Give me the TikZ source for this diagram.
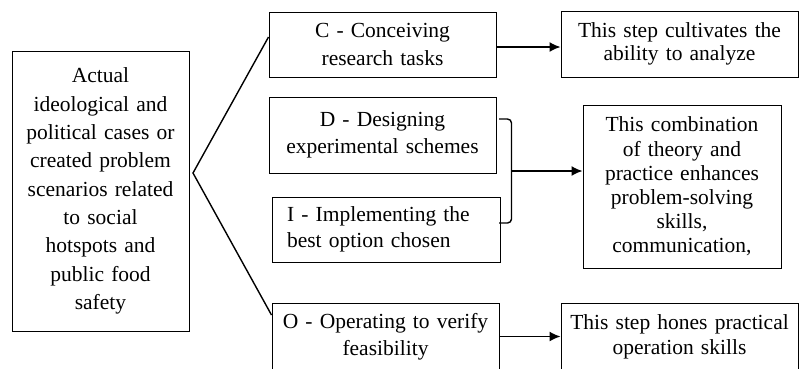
\documentclass[tikz,border=0pt]{standalone}
\usepackage{fontspec}
\setmainfont{Liberation Serif}
\usetikzlibrary{arrows.meta,calc}
\begin{document}
\begin{tikzpicture}[x=1pt,y=-1pt,
  box/.style={draw,line width=1pt,inner sep=0pt,align=center},
  conn/.style={line width=1.4pt},
  arr/.style={conn,-{Latex[length=11pt,width=10pt]}},
]
\useasboundingbox (0,0) rectangle (799,368);
\clip (0,0) rectangle (799,368);

\node[box, minimum width=177pt, minimum height=280pt, text width=170pt,
  font=\fontsize{21.5}{28.3}\selectfont] (L) at (100.5,191)
  {Actual\\ideological and\\political cases or\\created problem\\scenarios related\\to social\\hotspots and\\public food\\safety};

\node[box, minimum width=227pt, minimum height=65pt, text width=215pt,
  font=\fontsize{21.5}{28}\selectfont] (C) at (382.5,44.5)
  {C - Conceiving\\research tasks};

\node[box, minimum width=227pt, minimum height=76pt, text width=215pt,
  font=\fontsize{21.5}{27}\selectfont] (D) at (382.5,135)
  {D - Designing\\experimental schemes};

\node[box, align=left, minimum width=228pt, minimum height=65pt, text width=198pt,
  font=\fontsize{21.5}{25.5}\selectfont] (I) at (386,229.5)
  {\makebox[198pt][s]{I - Implementing the}\\best option chosen};

\node[box, minimum width=227pt, minimum height=67pt, text width=215pt,
  font=\fontsize{21.5}{27}\selectfont] (O) at (385.5,336.5)
  {O - Operating to verify\\feasibility};

\node[box, minimum width=237pt, minimum height=66pt, text width=225pt,
  font=\fontsize{21.5}{23.5}\selectfont] (RC) at (679.5,44)
  {This step cultivates the\\ability to analyze};

\node[box, minimum width=198pt, minimum height=163pt, text width=190pt,
  font=\fontsize{21.5}{24.2}\selectfont] (RM) at (682,186.5)
  {This combination\\of theory and\\practice enhances\\problem-solving\\skills,\\communication,};

\node[box, minimum width=237pt, minimum height=67pt, text width=225pt,
  font=\fontsize{21.5}{25}\selectfont] (RO) at (679.5,336.5)
  {This step hones practical\\operation skills};

% fan from the case box
\coordinate (apex) at (193,173);
\draw[conn] ([yshift=7.5pt]C.west) -- (apex) -- ([yshift=21.5pt]O.west);

% arrows
\draw[arr] ([yshift=-2.5pt]C.east) -- ([yshift=-2.5pt]C.east -| RC.west);
\draw[arr] (O.east) -- (O.east -| RO.west);

% bracket joining D and I
\coordinate (bt) at (499,119);
\coordinate (bb) at (499,223);
\coordinate (bm) at (511.5,171);
\draw[conn, rounded corners=4pt] (bt) -- (bt -| bm) -- (bm) -- (bb -| bm) -- (bb);
\draw[arr] (bm) -- (bm -| RM.west);
\end{tikzpicture}
\end{document}
